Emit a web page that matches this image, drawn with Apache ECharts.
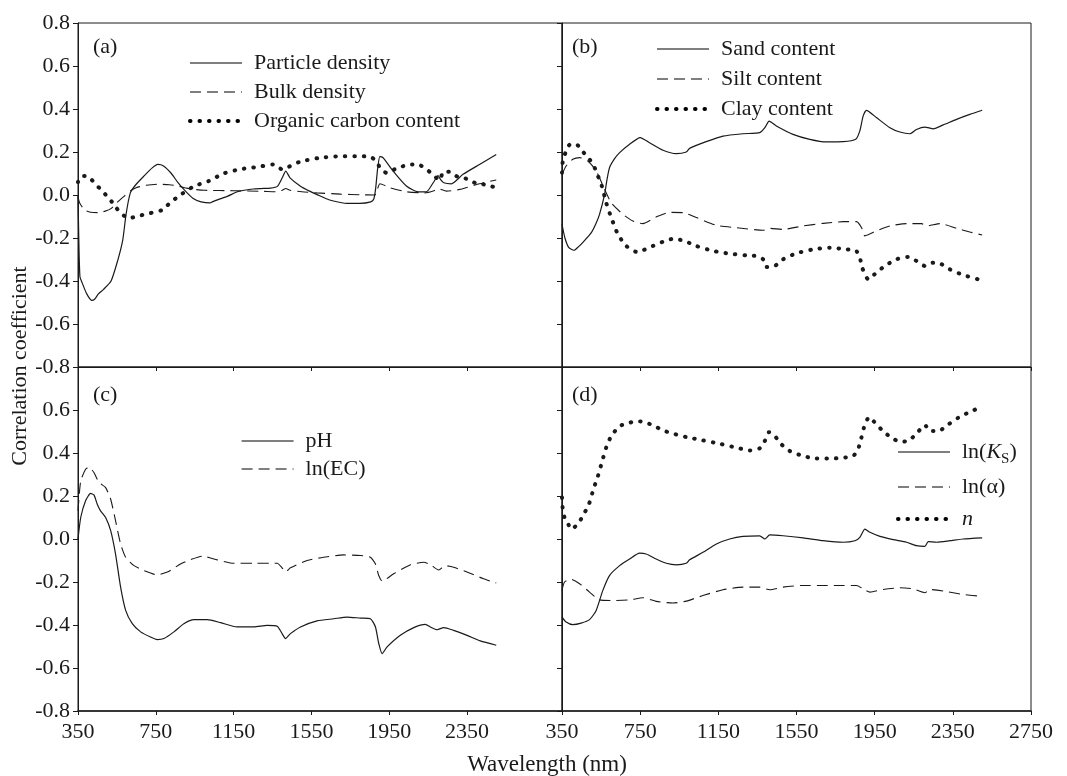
<!DOCTYPE html>
<html>
<head>
<meta charset="utf-8">
<script src="https://cdn.jsdelivr.net/npm/echarts@6/dist/echarts.min.js"></script>
<style>
  html, body { margin: 0; padding: 0; background: #fff; }
  #chart { width: 1067px; height: 776px; }
</style>
</head>
<body>
<div id="chart"></div>
<script>
// wavelength (nm), correlation coefficient
const particleDensity = [[350, 0.0], [354, -0.2], [360, -0.38], [372, -0.41], [395, -0.46], [420, -0.49], [435, -0.485], [455, -0.46], [480, -0.44], [520, -0.40], [554, -0.305], [580, -0.21], [597, -0.09], [619, 0.01], [649, 0.05], [691, 0.09], [730, 0.125], [760, 0.142], [790, 0.135], [830, 0.1], [862, 0.06], [900, 0.02], [940, -0.015], [983, -0.032], [1030, -0.037], [1040, -0.032], [1080, -0.018], [1120, -0.005], [1170, 0.015], [1205, 0.022], [1250, 0.028], [1290, 0.03], [1340, 0.032], [1375, 0.04], [1400, 0.08], [1418, 0.111], [1440, 0.08], [1492, 0.042], [1540, 0.018], [1577, 0.003], [1620, -0.015], [1663, -0.028], [1731, -0.039], [1799, -0.039], [1855, -0.032], [1870, -0.02], [1880, 0.03], [1890, 0.12], [1902, 0.18], [1919, 0.173], [1970, 0.111], [2038, 0.042], [2098, 0.015], [2141, 0.015], [2176, 0.057], [2201, 0.09], [2215, 0.07], [2230, 0.057], [2269, 0.052], [2329, 0.096], [2414, 0.142], [2500, 0.188]]
const bulkDensity = [[350, -0.01], [360, -0.04], [385, -0.07], [415, -0.08], [451, -0.082], [490, -0.075], [521, -0.062], [550, -0.035], [588, -0.005], [620, 0.02], [649, 0.034], [700, 0.045], [760, 0.05], [820, 0.048], [862, 0.042], [931, 0.028], [1000, 0.022], [1150, 0.02], [1300, 0.017], [1372, 0.015], [1400, 0.022], [1418, 0.03], [1440, 0.022], [1500, 0.015], [1577, 0.01], [1700, 0.004], [1800, 0.001], [1876, 0.0], [1890, 0.03], [1902, 0.052], [1953, 0.034], [2038, 0.015], [2132, 0.01], [2180, 0.02], [2201, 0.03], [2244, 0.018], [2312, 0.026], [2414, 0.052], [2500, 0.07]]
const organicCarbon = [[350, 0.06], [355, 0.075], [372, 0.088], [389, 0.088], [415, 0.075], [441, 0.05], [475, 0.018], [514, -0.02], [543, -0.055], [572, -0.086], [611, -0.108], [663, -0.097], [714, -0.086], [782, -0.07], [825, -0.035], [868, -0.005], [945, 0.04], [1022, 0.065], [1099, 0.1], [1184, 0.12], [1270, 0.13], [1355, 0.142], [1398, 0.12], [1423, 0.127], [1492, 0.155], [1594, 0.173], [1697, 0.18], [1799, 0.18], [1851, 0.178], [1885, 0.157], [1902, 0.127], [1936, 0.103], [1979, 0.12], [2056, 0.142], [2107, 0.139], [2141, 0.12], [2176, 0.093], [2210, 0.068], [2227, 0.108], [2261, 0.108], [2304, 0.083], [2346, 0.076], [2389, 0.057], [2432, 0.05], [2474, 0.04], [2500, 0.036]]

const sandContent = [[350, -0.136], [365, -0.2], [385, -0.245], [411, -0.257], [435, -0.24], [457, -0.22], [500, -0.175], [525, -0.13], [542, -0.09], [568, 0.003], [580, 0.07], [593, 0.127], [620, 0.17], [645, 0.197], [696, 0.236], [750, 0.267], [798, 0.243], [867, 0.208], [935, 0.192], [986, 0.2], [1003, 0.217], [1088, 0.248], [1174, 0.274], [1276, 0.285], [1362, 0.29], [1388, 0.313], [1410, 0.344], [1447, 0.321], [1532, 0.282], [1618, 0.259], [1703, 0.247], [1789, 0.248], [1853, 0.259], [1874, 0.298], [1891, 0.367], [1908, 0.394], [1959, 0.36], [2028, 0.313], [2079, 0.293], [2130, 0.285], [2164, 0.305], [2207, 0.316], [2250, 0.308], [2301, 0.326], [2369, 0.352], [2437, 0.375], [2500, 0.394]]
const siltContent = [[350, 0.096], [371, 0.135], [405, 0.166], [440, 0.174], [482, 0.158], [525, 0.112], [568, 0.026], [602, -0.036], [662, -0.09], [713, -0.121], [764, -0.133], [832, -0.102], [901, -0.081], [969, -0.082], [1037, -0.105], [1140, -0.141], [1242, -0.152], [1379, -0.164], [1413, -0.155], [1481, -0.16], [1584, -0.144], [1686, -0.132], [1789, -0.124], [1857, -0.124], [1883, -0.152], [1900, -0.19], [1959, -0.167], [2028, -0.144], [2113, -0.133], [2190, -0.133], [2216, -0.144], [2284, -0.133], [2369, -0.155], [2437, -0.172], [2500, -0.186]]
const clayContent = [[350, 0.104], [354, 0.158], [368, 0.197], [388, 0.233], [423, 0.236], [453, 0.205], [491, 0.166], [517, 0.127], [534, 0.088], [551, 0.05], [563, 0.011], [576, -0.036], [602, -0.105], [636, -0.183], [679, -0.237], [730, -0.264], [764, -0.257], [815, -0.237], [884, -0.211], [926, -0.203], [986, -0.217], [1037, -0.237], [1123, -0.26], [1208, -0.273], [1293, -0.281], [1345, -0.284], [1379, -0.299], [1396, -0.335], [1439, -0.33], [1481, -0.299], [1550, -0.271], [1635, -0.253], [1721, -0.245], [1806, -0.253], [1853, -0.257], [1874, -0.291], [1886, -0.338], [1917, -0.392], [1959, -0.361], [2002, -0.33], [2062, -0.299], [2122, -0.288], [2164, -0.307], [2207, -0.33], [2250, -0.315], [2292, -0.322], [2335, -0.346], [2403, -0.372], [2500, -0.397]]

const pH = [[350, 0.0], [364, 0.1], [389, 0.178], [415, 0.212], [432, 0.205], [449, 0.162], [466, 0.131], [492, 0.1], [518, 0.039], [543, -0.07], [569, -0.224], [595, -0.332], [629, -0.394], [672, -0.432], [723, -0.456], [757, -0.468], [792, -0.463], [843, -0.432], [894, -0.394], [946, -0.375], [1014, -0.375], [1083, -0.389], [1168, -0.409], [1254, -0.409], [1322, -0.402], [1374, -0.406], [1399, -0.44], [1417, -0.463], [1442, -0.44], [1494, -0.409], [1579, -0.381], [1665, -0.371], [1733, -0.363], [1802, -0.368], [1853, -0.371], [1879, -0.409], [1896, -0.486], [1913, -0.533], [1939, -0.502], [2007, -0.448], [2076, -0.412], [2136, -0.397], [2161, -0.409], [2196, -0.422], [2230, -0.412], [2281, -0.425], [2350, -0.448], [2418, -0.474], [2500, -0.494]]
const lnEC = [[350, 0.131], [364, 0.27], [389, 0.324], [406, 0.335], [432, 0.309], [458, 0.263], [492, 0.239], [518, 0.185], [543, 0.085], [569, -0.023], [595, -0.085], [638, -0.124], [689, -0.147], [757, -0.167], [809, -0.154], [877, -0.116], [929, -0.096], [989, -0.08], [1066, -0.097], [1151, -0.113], [1254, -0.113], [1374, -0.113], [1399, -0.134], [1417, -0.154], [1442, -0.134], [1528, -0.1], [1613, -0.085], [1716, -0.074], [1802, -0.077], [1853, -0.085], [1879, -0.116], [1896, -0.17], [1913, -0.196], [1973, -0.162], [2059, -0.12], [2127, -0.108], [2161, -0.119], [2204, -0.144], [2238, -0.124], [2281, -0.131], [2350, -0.154], [2435, -0.185], [2500, -0.205]]

const lnKs = [[350, -0.363], [371, -0.386], [405, -0.398], [448, -0.391], [491, -0.375], [525, -0.332], [559, -0.239], [593, -0.17], [645, -0.124], [696, -0.093], [747, -0.066], [781, -0.07], [832, -0.093], [884, -0.113], [935, -0.12], [986, -0.113], [1003, -0.097], [1071, -0.062], [1140, -0.023], [1208, 0.0], [1276, 0.012], [1362, 0.015], [1388, 0.0], [1413, 0.019], [1481, 0.015], [1584, 0.005], [1686, -0.008], [1789, -0.015], [1849, -0.008], [1874, 0.008], [1900, 0.046], [1926, 0.031], [1977, 0.012], [2045, -0.003], [2113, -0.015], [2164, -0.031], [2207, -0.034], [2224, -0.012], [2267, -0.015], [2335, -0.008], [2403, 0.0], [2500, 0.005]]
const lnAlpha = [[350, -0.239], [363, -0.2], [397, -0.188], [440, -0.208], [491, -0.247], [542, -0.283], [610, -0.286], [696, -0.283], [764, -0.273], [832, -0.29], [918, -0.298], [986, -0.289], [1071, -0.263], [1174, -0.236], [1276, -0.224], [1362, -0.224], [1413, -0.236], [1481, -0.224], [1584, -0.216], [1686, -0.216], [1789, -0.216], [1857, -0.216], [1891, -0.232], [1926, -0.247], [1993, -0.235], [2079, -0.227], [2147, -0.232], [2207, -0.25], [2233, -0.235], [2301, -0.242], [2403, -0.258], [2500, -0.267]]
const nParam = [[350, 0.193], [352, 0.17], [354, 0.131], [363, 0.1], [380, 0.073], [397, 0.046], [431, 0.069], [457, 0.108], [488, 0.162], [511, 0.232], [534, 0.293], [556, 0.363], [576, 0.425], [602, 0.479], [645, 0.525], [696, 0.541], [739, 0.548], [781, 0.541], [824, 0.525], [867, 0.505], [918, 0.49], [986, 0.474], [1071, 0.459], [1157, 0.443], [1242, 0.425], [1311, 0.412], [1362, 0.422], [1388, 0.456], [1410, 0.497], [1439, 0.479], [1473, 0.44], [1516, 0.409], [1584, 0.386], [1652, 0.374], [1720, 0.374], [1789, 0.378], [1840, 0.386], [1865, 0.417], [1882, 0.471], [1900, 0.533], [1922, 0.567], [1959, 0.533], [1993, 0.502], [2036, 0.471], [2079, 0.453], [2122, 0.456], [2164, 0.49], [2207, 0.53], [2233, 0.502], [2276, 0.502], [2327, 0.533], [2378, 0.564], [2438, 0.592], [2500, 0.615]]

const xTicksLeft = [350, 750, 1150, 1550, 1950, 2350]
const xTicksRight = [350, 750, 1150, 1550, 1950, 2350, 2750]

const serif = '"Liberation Serif", "DejaVu Serif", serif'
const ink = '#1a1a1a'

const solid = { type: 'solid', width: 1.2, color: ink }
const dashed = { type: [11, 6], width: 1.1, color: ink }
const dotted = { type: [0.5, 9], width: 4, color: ink, cap: 'round' }

const legendNames = {
  'ln(Ks)': 'ln({i|K}{sub|S})',
  'ln(α)': 'ln(α)',
  'n': '{i|n}'
}

const grids = [
  { left: 78, top: 23, width: 484, height: 344 },
  { left: 562, top: 23, width: 469, height: 344 },
  { left: 78, top: 367, width: 484, height: 344 },
  { left: 562, top: 367, width: 469, height: 344 }
]

function xAxis (idx) {
  const isLeft = idx % 2 === 0
  const ticks = isLeft ? xTicksLeft : xTicksRight
  return {
    type: 'value',
    gridIndex: idx,
    min: 350,
    max: isLeft ? 2838 : 2750,
    interval: 400,
    splitLine: { show: false },
    axisLine: { onZero: false, lineStyle: { color: ink, width: idx >= 2 ? 1.5 : 1 } },
    axisTick: { length: 4, customValues: ticks, lineStyle: { color: ink } },
    axisLabel: {
      show: idx >= 2,
      customValues: ticks,
      margin: 10,
      color: ink,
      fontFamily: serif,
      fontSize: 22,
      formatter: v => String(v)
    }
  }
}

function yAxis (idx) {
  return {
    type: 'value',
    gridIndex: idx,
    min: -0.8,
    max: 0.8,
    interval: 0.2,
    splitLine: { show: false },
    axisLine: { onZero: false, lineStyle: { color: ink } },
    axisTick: { length: 5, lineStyle: { color: ink } },
    axisLabel: {
      show: idx % 2 === 0,
      showMaxLabel: idx < 2,
      margin: 8,
      color: ink,
      fontFamily: serif,
      fontSize: 22,
      formatter: v => v.toFixed(1)
    }
  }
}

function line (name, data, idx, style) {
  return {
    name: name,
    type: 'line',
    xAxisIndex: idx,
    yAxisIndex: idx,
    data: data,
    symbol: 'none',
    smooth: 0.2,
    itemStyle: { color: ink },
    lineStyle: style
  }
}

function legend (names, left, top, gap) {
  return {
    data: names,
    orient: 'vertical',
    left: left,
    top: top,
    padding: 0,
    itemWidth: 52,
    itemHeight: 14,
    itemGap: gap,
    selectedMode: false,
    itemStyle: { opacity: 0 },
    lineStyle: { width: 'inherit', color: '#000' },
    formatter: name => legendNames[name] || name,
    textStyle: {
      color: ink,
      fontFamily: serif,
      fontSize: 22,
      lineHeight: 24,
      padding: [0, 0, 0, 7],
      rich: {
        i: { fontFamily: serif, fontSize: 22, fontStyle: 'italic', color: ink, lineHeight: 24 },
        sub: { fontFamily: serif, fontSize: 15, color: ink, verticalAlign: 'bottom', lineHeight: 30 }
      }
    }
  }
}

function label (text, x, y) {
  return {
    type: 'text',
    x: x,
    y: y,
    style: { text: text, font: '22px ' + serif, fill: ink, textAlign: 'left', textVerticalAlign: 'middle' }
  }
}

const chart = echarts.init(document.getElementById('chart'))

chart.setOption({
  animation: false,
  backgroundColor: '#fff',
  grid: grids.map(g => Object.assign({ show: true, borderColor: ink, borderWidth: 1 }, g)),
  xAxis: [0, 1, 2, 3].map(xAxis),
  yAxis: [0, 1, 2, 3].map(yAxis),
  legend: [
    legend(['Particle density', 'Bulk density', 'Organic carbon content'], 188, 51, 5),
    legend(['Sand content', 'Silt content', 'Clay content'], 655, 37, 6),
    legend(['pH', 'ln(EC)'], 241, 429, 4),
    legend(['ln(Ks)', 'ln(α)', 'n'], 896, 437, 8)
  ],
  graphic: [
    label('(a)', 93, 47),
    label('(b)', 572, 47),
    label('(c)', 93, 395),
    label('(d)', 572, 395),
    {
      type: 'text',
      x: 547,
      y: 765,
      style: { text: 'Wavelength (nm)', font: '23px ' + serif, fill: ink, textAlign: 'center', textVerticalAlign: 'middle' }
    },
    {
      type: 'text',
      x: 20,
      y: 366,
      rotation: Math.PI / 2,
      style: { text: 'Correlation coefficient', font: '22px ' + serif, fill: ink, textAlign: 'center', textVerticalAlign: 'middle' }
    }
  ],
  series: [
    line('Particle density', particleDensity, 0, solid),
    line('Bulk density', bulkDensity, 0, dashed),
    line('Organic carbon content', organicCarbon, 0, dotted),
    line('Sand content', sandContent, 1, solid),
    line('Silt content', siltContent, 1, dashed),
    line('Clay content', clayContent, 1, dotted),
    line('pH', pH, 2, solid),
    line('ln(EC)', lnEC, 2, dashed),
    line('ln(Ks)', lnKs, 3, solid),
    line('ln(α)', lnAlpha, 3, dashed),
    line('n', nParam, 3, dotted)
  ]
})
</script>
</body>
</html>
